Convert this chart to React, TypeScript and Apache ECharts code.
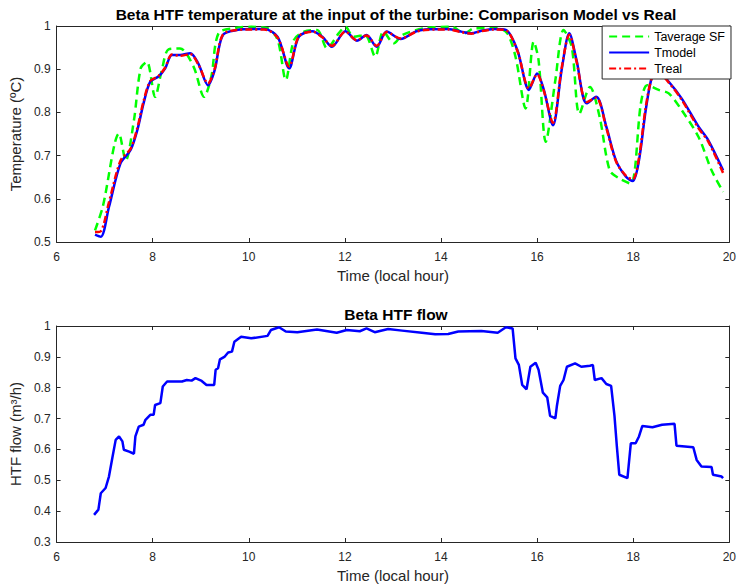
import React, { useEffect, useRef } from "react";
import * as echarts from "echarts";

// Top chart: temperatures (normalised)
const tempTime = [6.80, 6.92, 7.09, 7.33, 7.54, 7.68, 7.81, 7.95, 8.12, 8.26, 8.40, 8.57, 8.78, 8.95, 9.15, 9.29, 9.46, 9.77, 10.05, 10.32, 10.60, 10.84, 11.04, 11.32, 11.53, 11.73, 12.01, 12.25, 12.45, 12.66, 12.87, 13.16, 13.47, 13.67, 14.15, 14.42, 14.63, 14.84, 15.11, 15.35, 15.59, 15.83, 16.00, 16.14, 16.33, 16.51, 16.67, 16.82, 17.03, 17.23, 17.44, 17.64, 17.85, 17.99, 18.12, 18.26, 18.40, 18.53, 18.74, 19.01, 19.36, 19.56, 19.87];
const tModel = [0.517, 0.512, 0.581, 0.682, 0.713, 0.759, 0.821, 0.871, 0.883, 0.902, 0.933, 0.933, 0.937, 0.913, 0.863, 0.898, 0.979, 0.991, 0.993, 0.993, 0.975, 0.902, 0.975, 0.988, 0.975, 0.952, 0.988, 0.966, 0.979, 0.952, 0.987, 0.970, 0.987, 0.992, 0.993, 0.987, 0.983, 0.989, 0.993, 0.991, 0.944, 0.852, 0.890, 0.852, 0.770, 0.898, 0.983, 0.921, 0.821, 0.836, 0.767, 0.689, 0.651, 0.641, 0.689, 0.805, 0.886, 0.894, 0.871, 0.832, 0.767, 0.736, 0.666];
const tReal = [0.523, 0.525, 0.592, 0.688, 0.716, 0.764, 0.826, 0.873, 0.884, 0.904, 0.934, 0.931, 0.935, 0.911, 0.867, 0.901, 0.980, 0.991, 0.992, 0.992, 0.973, 0.906, 0.976, 0.987, 0.974, 0.954, 0.987, 0.967, 0.978, 0.954, 0.986, 0.971, 0.986, 0.991, 0.992, 0.986, 0.982, 0.988, 0.992, 0.990, 0.942, 0.856, 0.888, 0.850, 0.776, 0.902, 0.980, 0.918, 0.824, 0.834, 0.764, 0.687, 0.653, 0.645, 0.695, 0.812, 0.884, 0.891, 0.869, 0.829, 0.763, 0.733, 0.660];

const avgTime = [6.80, 6.96, 7.30, 7.44, 7.61, 7.75, 7.88, 8.05, 8.19, 8.33, 8.57, 8.85, 9.07, 9.22, 9.37, 9.70, 10.05, 10.39, 10.60, 10.77, 10.94, 11.15, 11.42, 11.63, 11.87, 12.01, 12.18, 12.42, 12.63, 12.80, 13.02, 13.19, 13.67, 14.22, 14.49, 14.70, 15.18, 15.38, 15.55, 15.76, 15.93, 16.03, 16.18, 16.38, 16.55, 16.72, 16.88, 17.10, 17.30, 17.51, 17.71, 17.95, 18.16, 18.29, 18.53, 18.74, 19.01, 19.36, 19.63, 19.87];
const tAverageSF = [0.527, 0.581, 0.751, 0.689, 0.782, 0.902, 0.917, 0.836, 0.898, 0.946, 0.948, 0.906, 0.836, 0.883, 0.983, 0.995, 0.998, 0.995, 0.968, 0.875, 0.968, 0.987, 0.991, 0.948, 0.983, 0.998, 0.975, 0.979, 0.929, 0.987, 0.960, 0.979, 0.995, 0.998, 0.983, 0.995, 0.995, 0.983, 0.929, 0.809, 0.964, 0.921, 0.732, 0.875, 0.991, 0.952, 0.797, 0.859, 0.790, 0.666, 0.647, 0.635, 0.821, 0.863, 0.852, 0.844, 0.805, 0.743, 0.666, 0.616];

// Bottom chart: HTF flow
const flowTime = [6.78, 6.87, 6.92, 7.02, 7.09, 7.16, 7.23, 7.30, 7.37, 7.40, 7.51, 7.61, 7.64, 7.71, 7.81, 7.85, 7.95, 8.02, 8.05, 8.16, 8.21, 8.30, 8.61, 8.71, 8.81, 8.89, 9.02, 9.12, 9.28, 9.31, 9.36, 9.40, 9.50, 9.57, 9.65, 9.70, 9.77, 9.84, 10.05, 10.39, 10.46, 10.63, 10.77, 11.01, 11.42, 11.83, 12.04, 12.31, 12.45, 12.62, 12.90, 13.19, 13.60, 13.88, 14.15, 14.36, 14.84, 15.18, 15.35, 15.49, 15.55, 15.62, 15.69, 15.78, 15.86, 15.97, 16.03, 16.12, 16.21, 16.27, 16.38, 16.41, 16.48, 16.55, 16.62, 16.79, 16.92, 17.10, 17.16, 17.20, 17.34, 17.44, 17.54, 17.61, 17.66, 17.71, 17.88, 17.95, 18.05, 18.12, 18.19, 18.40, 18.60, 18.86, 18.90, 19.25, 19.32, 19.42, 19.63, 19.66, 19.84, 19.87];
const flowVal = [0.388, 0.405, 0.458, 0.475, 0.512, 0.572, 0.631, 0.642, 0.626, 0.599, 0.593, 0.586, 0.642, 0.674, 0.680, 0.696, 0.712, 0.712, 0.744, 0.750, 0.804, 0.820, 0.820, 0.825, 0.823, 0.831, 0.822, 0.809, 0.809, 0.858, 0.863, 0.892, 0.901, 0.914, 0.917, 0.949, 0.957, 0.965, 0.960, 0.968, 0.987, 0.996, 0.982, 0.980, 0.989, 0.978, 0.987, 0.983, 0.992, 0.980, 0.990, 0.985, 0.978, 0.973, 0.974, 0.982, 0.984, 0.978, 0.996, 0.992, 0.895, 0.874, 0.809, 0.795, 0.868, 0.881, 0.858, 0.784, 0.769, 0.709, 0.701, 0.739, 0.806, 0.825, 0.868, 0.879, 0.868, 0.871, 0.874, 0.825, 0.831, 0.812, 0.806, 0.709, 0.609, 0.518, 0.507, 0.620, 0.620, 0.642, 0.676, 0.672, 0.680, 0.683, 0.612, 0.607, 0.566, 0.545, 0.543, 0.518, 0.512, 0.507];

const zip = (xs: number[], ys: number[]) => xs.map((x, i) => [x, ys[i]]);

const AXIS = "#262626";
const FONT = "'Liberation Sans', Arial, Helvetica, sans-serif";

function xAxes(grid: number) {
  const base = {
    gridIndex: grid,
    type: "value" as const,
    min: 6,
    max: 20,
    interval: 2,
    splitLine: { show: false },
    axisLine: { show: true, lineStyle: { color: AXIS, width: 1 } },
    axisTick: { show: true, inside: true, length: 4, lineStyle: { color: AXIS } },
  };
  return [
    {
      ...base,
      position: "bottom",
      axisLabel: { color: AXIS, fontSize: 12, margin: 9, fontFamily: FONT },
      name: "Time (local hour)",
      nameLocation: "middle",
      nameGap: 26,
      nameTextStyle: { color: AXIS, fontSize: 15, fontFamily: FONT },
    },
    { ...base, position: "top", axisLabel: { show: false } },
  ];
}

function yAxes(grid: number, min: number, name: string) {
  const base = {
    gridIndex: grid,
    type: "value" as const,
    min,
    max: 1,
    interval: 0.1,
    splitLine: { show: false },
    axisLine: { show: true, lineStyle: { color: AXIS, width: 1 } },
    axisTick: { show: true, inside: true, length: 4, lineStyle: { color: AXIS } },
  };
  return [
    {
      ...base,
      position: "left",
      axisLabel: {
        color: AXIS,
        fontSize: 12,
        margin: 6,
        fontFamily: FONT,
        formatter: (v: number) => String(Math.round(v * 10) / 10),
      },
      name,
      nameLocation: "middle",
      nameGap: 28,
      nameTextStyle: { color: AXIS, fontSize: 15, fontFamily: FONT },
    },
    { ...base, position: "right", axisLabel: { show: false } },
  ];
}

export default function App() {
  const ref = useRef<HTMLDivElement>(null);
  useEffect(() => {
    document.body.style.margin = "0";
    const chart = echarts.init(ref.current!, null, { renderer: "svg" });
    chart.setOption({
      animation: false,
      backgroundColor: "#ffffff",
      textStyle: { fontFamily: FONT },
      title: [
        {
          text: "Beta HTF temperature at the input of the turbine: Comparison Model vs Real",
          left: 391,
          top: 1,
          textAlign: "center",
          textStyle: { fontSize: 15.5, fontWeight: "bold", color: "#000", fontFamily: FONT },
        },
        {
          text: "Beta HTF flow",
          left: 391,
          top: 301,
          textAlign: "center",
          textStyle: { fontSize: 15.5, fontWeight: "bold", color: "#000", fontFamily: FONT },
        },
      ],
      legend: {
        data: ["Taverage SF", "Tmodel", "Treal"],
        orient: "vertical",
        right: 8,
        top: 26,
        backgroundColor: "#fff",
        borderColor: AXIS,
        borderWidth: 1,
        borderRadius: 0,
        padding: [4, 6, 4, 6],
        itemWidth: 40,
        itemHeight: 12,
        itemGap: 3,
        itemStyle: { opacity: 0 },
        textStyle: { fontSize: 12.5, color: "#000", fontFamily: FONT },
      },
      grid: [
        { left: 50, top: 26, width: 682, height: 216 },
        { left: 50, top: 326, width: 682, height: 216 },
      ],
      xAxis: [...xAxes(0), ...xAxes(1)],
      yAxis: [...yAxes(0, 0.5, "Temperature (ºC)"), ...yAxes(1, 0.3, "HTF flow (m³/h)")],
      series: [
        {
          name: "Taverage SF",
          type: "line",
          xAxisIndex: 0,
          yAxisIndex: 0,
          data: zip(avgTime, tAverageSF),
          symbol: "none",
          smooth: 0.3,
          lineStyle: { color: "#00ff00", width: 2.5, type: [8, 5] },
          itemStyle: { color: "#00ff00" },
        },
        {
          name: "Tmodel",
          type: "line",
          xAxisIndex: 0,
          yAxisIndex: 0,
          data: zip(tempTime, tModel),
          symbol: "none",
          smooth: 0.3,
          lineStyle: { color: "#0000ff", width: 2.5 },
          itemStyle: { color: "#0000ff" },
        },
        {
          name: "Treal",
          type: "line",
          xAxisIndex: 0,
          yAxisIndex: 0,
          data: zip(tempTime, tReal),
          symbol: "none",
          smooth: 0.3,
          lineStyle: { color: "#ff0000", width: 2.5, type: [7, 3, 2, 3] },
          itemStyle: { color: "#ff0000" },
        },
        {
          name: "HTF flow",
          type: "line",
          xAxisIndex: 2,
          yAxisIndex: 2,
          data: zip(flowTime, flowVal),
          symbol: "none",
          lineStyle: { color: "#0000ff", width: 2.5 },
          itemStyle: { color: "#0000ff" },
        },
      ],
    });
    return () => chart.dispose();
  }, []);
  return <div ref={ref} style={{ position: "fixed", left: 0, top: 0, width: 739, height: 587 }} />;
}
